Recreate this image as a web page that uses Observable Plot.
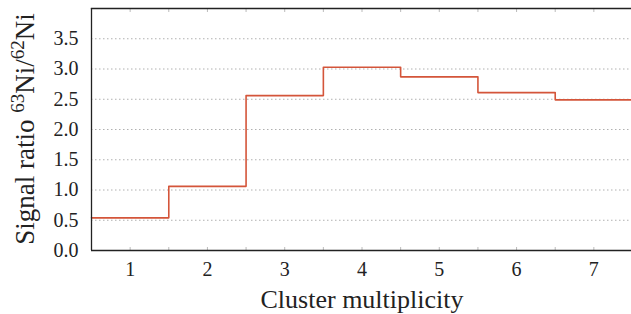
<!DOCTYPE html>
<html>
<head>
<meta charset="utf-8">
<script src="https://cdn.jsdelivr.net/npm/d3@7"></script>
<script src="https://cdn.jsdelivr.net/npm/@observablehq/plot@0.6"></script>
<style>
  html, body { margin: 0; padding: 0; background: #fff; }
  #chart svg { display: block; }
</style>
</head>
<body>
<div id="chart"></div>
<script>
// Data
const multiplicity = [1, 2, 3, 4, 5, 6, 7];
const ratio = [0.54, 1.06, 2.56, 3.03, 2.87, 2.61, 2.49];
const yTicks = [0.0, 0.5, 1.0, 1.5, 2.0, 2.5, 3.0, 3.5];
const xTicks = [1, 2, 3, 4, 5, 6, 7];
const xMinorTicks = [1, 1.5, 2, 2.5, 3, 3.5, 4, 4.5, 5, 5.5, 6, 6.5, 7];
const xLabel = "Cluster multiplicity";

// step data: each bin spans [m-0.5, m+0.5]
const steps = multiplicity.map((m, i) => ({x: m - 0.5, y: ratio[i]}));
steps.push({x: multiplicity[multiplicity.length - 1] + 0.5, y: ratio[ratio.length - 1]});

const font = "'Liberation Serif', 'DejaVu Serif', serif";

const chart = Plot.plot({
  width: 631,
  height: 314,
  marginLeft: 91,
  marginTop: 8,
  marginBottom: 64,
  marginRight: -1,
  style: {fontFamily: font, fontSize: "20px", color: "#222", background: "#fff"},
  x: {domain: [0.5, 7.5]},
  y: {domain: [0, 4.0]},
  marks: [
    Plot.gridY(yTicks.slice(1), {stroke: "#b0b0b0", strokeOpacity: 1, strokeDasharray: "1.5,2.5", strokeWidth: 1}),
    Plot.axisX(xMinorTicks, {anchor: "bottom", tickSize: -3, tickFormat: () => "", stroke: "#bbb", label: null}),
    Plot.axisX(xMinorTicks, {anchor: "top", tickSize: -3, tickFormat: () => "", stroke: "#bbb", label: null}),
    Plot.axisX(xTicks, {anchor: "bottom", tickSize: 0, tickPadding: 11, fontSize: 20, label: null}),
    Plot.axisY(yTicks, {anchor: "left", tickSize: 0, tickPadding: 13, fontSize: 20, tickFormat: d3.format(".1f"), label: null}),
    Plot.line(steps, {x: "x", y: "y", curve: "step-after", stroke: "#d4553a", strokeWidth: 1.6}),
    Plot.ruleY([0], {stroke: "#222", strokeWidth: 1.3}),
    Plot.ruleX([0.5], {stroke: "#222", strokeWidth: 1.3}),
    Plot.frame({anchor: "top", stroke: "#222", strokeWidth: 1.3}),
    Plot.text([xLabel], {frameAnchor: "bottom", lineAnchor: "middle", dy: 49, fontSize: 26, fill: "#222"})
  ]
});

document.getElementById("chart").appendChild(chart);

// Y axis label with superscripts
const svg = d3.select(chart);
const t = svg.append("text")
  .attr("transform", "translate(34,129) rotate(-90)")
  .attr("text-anchor", "middle")
  .attr("font-family", font)
  .attr("font-size", 27)
  .attr("fill", "#222");
t.append("tspan").text("Signal ratio ");
t.append("tspan").attr("font-size", 19).attr("dy", -10).text("63");
t.append("tspan").attr("dy", 10).text("Ni/");
t.append("tspan").attr("font-size", 19).attr("dy", -10).text("62");
t.append("tspan").attr("dy", 10).text("Ni");
</script>
</body>
</html>
